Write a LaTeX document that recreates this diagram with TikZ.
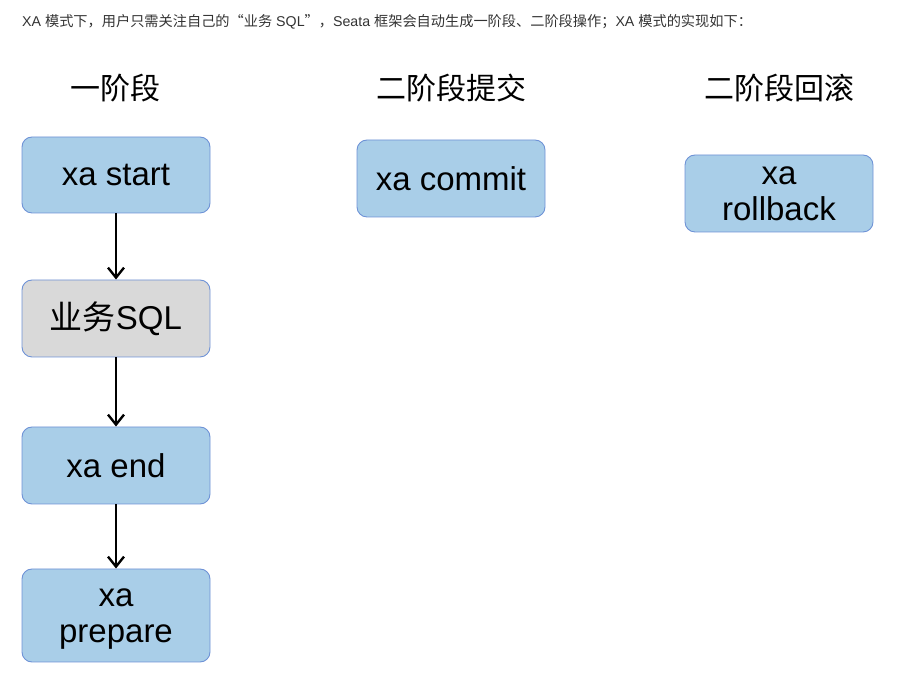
\documentclass[tikz,border=0pt]{standalone}
\usepackage{fontspec}
\setmainfont{Liberation Sans}
\newfontfamily\cjk{Noto Sans CJK SC}
\usetikzlibrary{arrows.meta}
\definecolor{boxblue}{RGB}{169,206,232}
\definecolor{boxgray}{RGB}{217,217,217}
\definecolor{boxedge}{RGB}{110,146,214}
\definecolor{txtgray}{RGB}{51,51,51}
\tikzset{
  stepbox/.style={draw=boxedge, line width=0.9pt, rounded corners=10pt, fill=boxblue,
    minimum width=188pt, minimum height=77pt, inner sep=0pt, align=center,
    font=\fontsize{33}{36}\selectfont},
  graybox/.style={stepbox, fill=boxgray},
  header/.style={font=\cjk\fontsize{30}{34}\selectfont, inner sep=0pt},
  flow/.style={line width=2.4pt, -{Straight Barb[length=10pt,width=16pt,line width=2.4pt]}}
}
\begin{document}
\begin{tikzpicture}[x=1pt,y=1pt]
\useasboundingbox (0,0) rectangle (912,674);
\node[anchor=west, inner sep=0pt, text=txtgray, font=\fontsize{14.2}{16}\selectfont] (intro) at (22,652)
  {XA {\cjk 模式下，用户只需关注自己的“业务} SQL{\cjk ”，}Seata {\cjk 框架会自动生成一阶段、二阶段操作；}XA {\cjk 模式的实现如下：}};
\node[header] (h1) at (115,586) {一阶段};
\node[header] (h2) at (451,586) {二阶段提交};
\node[header] (h3) at (779,586) {二阶段回滚};
\node[stepbox, minimum height=76pt] (start) at (116,499) {xa start};
\node[graybox] (sql) at (116,355.5) {{\cjk 业务}SQL};
\node[stepbox] (end) at (116,208.5) {xa end};
\node[stepbox, minimum height=93pt, text depth=-6pt] (prepare) at (116,58.5) {xa\\prepare};
\node[stepbox] (commit) at (451,495.5) {xa commit};
\node[stepbox, text depth=-5pt] (rollback) at (779,480.5) {xa\\rollback};
\draw[flow] (start) -- (sql);
\draw[flow] (sql) -- (end);
\draw[flow] (end) -- (prepare);
\end{tikzpicture}
\end{document}
